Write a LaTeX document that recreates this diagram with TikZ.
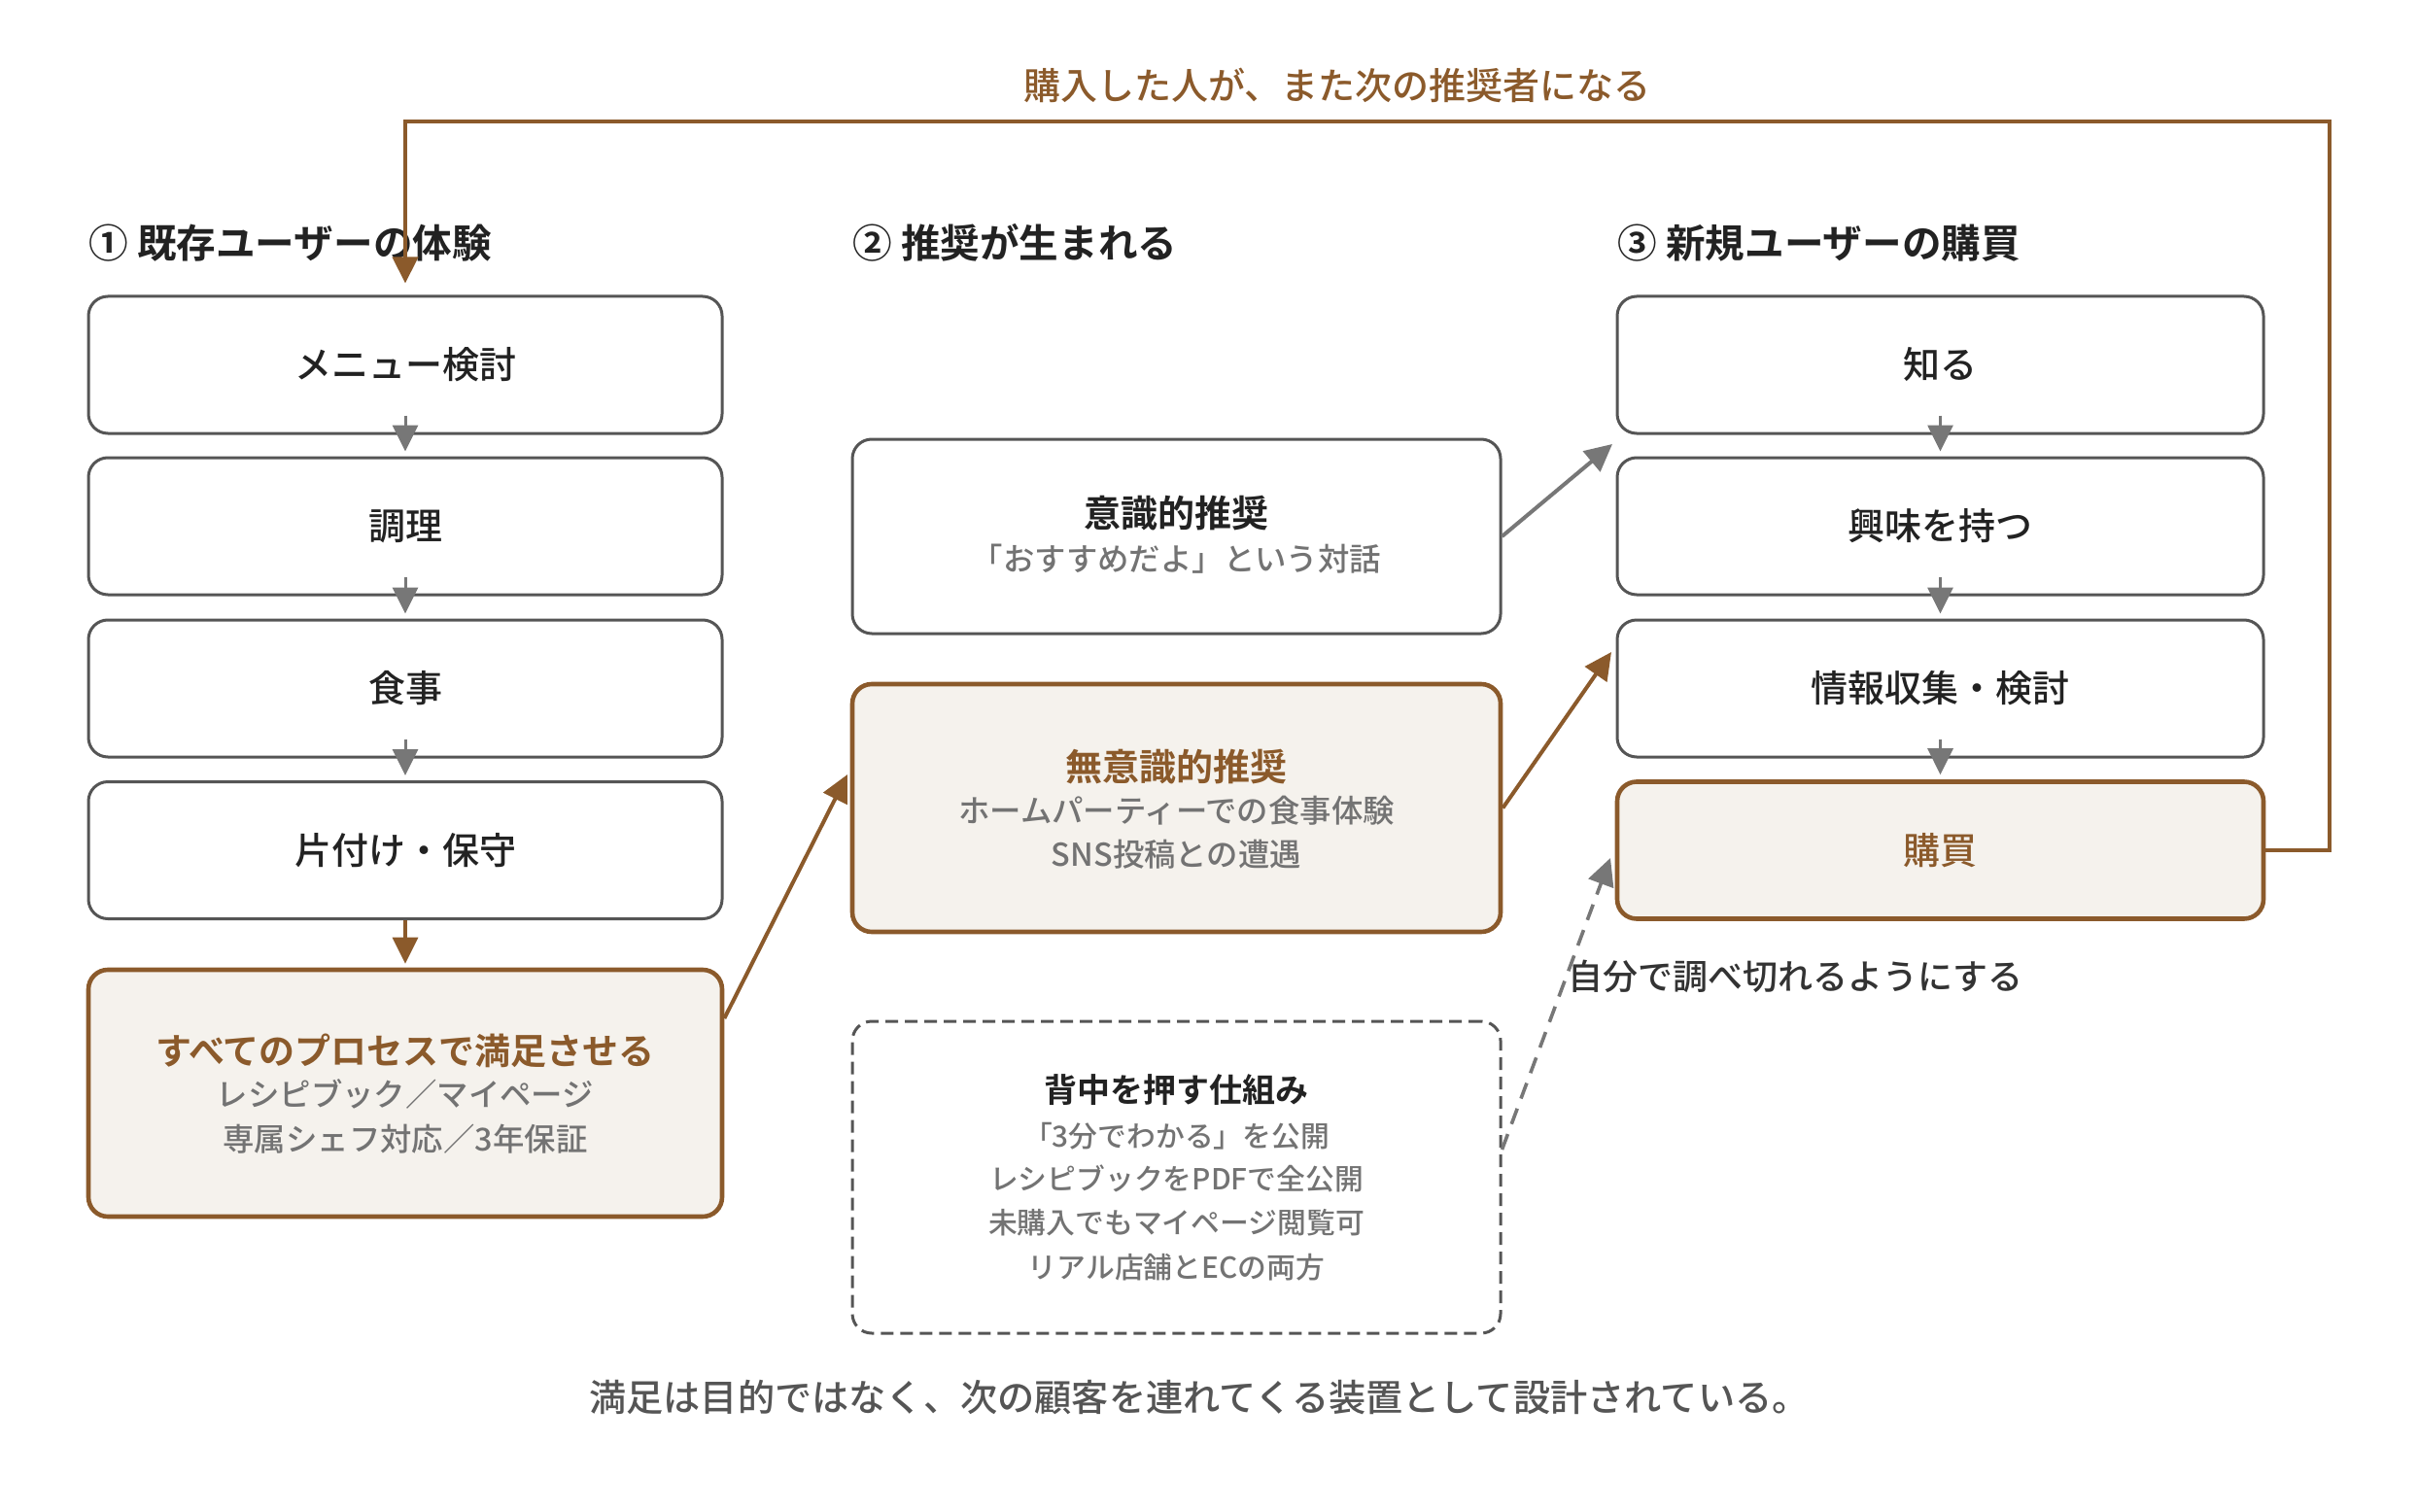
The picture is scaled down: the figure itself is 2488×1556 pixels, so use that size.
\documentclass[tikz,border=0pt]{standalone}
\usepackage{fontspec}
\setmainfont{Noto Sans CJK JP Medium}[BoldFont={Noto Sans CJK JP Bold}]
\usetikzlibrary{arrows.meta}
\definecolor{brn}{HTML}{8B5A2B}
\definecolor{fillc}{HTML}{F5F2ED}
\definecolor{bord}{HTML}{555555}
\definecolor{arr}{HTML}{777777}
\definecolor{txt}{HTML}{222222}
\definecolor{subc}{HTML}{737373}
\definecolor{notec}{HTML}{333333}
\definecolor{footc}{HTML}{555555}
\begin{document}
\begin{tikzpicture}[x=0.5pt,y=-0.5pt,
  box/.style={draw=bord, line width=1.5pt, rounded corners=10pt, fill=white, inner sep=0pt,
    minimum height=70.5pt, text=txt, font=\fontsize{19}{23}\selectfont},
  lbox/.style={box, minimum width=326pt},
  mbox/.style={box, minimum width=333.5pt},
  rbox/.style={box, minimum width=332.5pt},
  hbox/.style={draw=brn, line width=2.3pt, fill=fillc},
  dashbox/.style={draw=bord, line width=1.5pt, dash pattern=on 6.5pt off 3.5pt},
  head/.style={anchor=west, inner sep=0pt, text=txt, font=\fontsize{20.3}{24}\selectfont\bfseries},
  ttlb/.style={inner sep=0pt, text=brn, font=\fontsize{18.5}{22}\selectfont\bfseries},
  ttlk/.style={inner sep=0pt, text=txt, font=\fontsize{19}{22}\selectfont\bfseries},
  subt/.style={inner sep=0pt, text=subc, font=\fontsize{16.2}{20}\selectfont},
  subs/.style={inner sep=0pt, text=subc, font=\fontsize{14.9}{18}\selectfont},
  garrow/.style={draw=arr, line width=1.5pt, -{Triangle[length=13.5pt,width=13pt]}},
  garrowd/.style={draw=arr, line width=2pt, -{Triangle[length=14pt,width=13.5pt]}},
  barrow/.style={draw=brn, line width=1.8pt, -{Triangle[length=13.5pt,width=13pt]}},
  barrowd/.style={draw=brn, line width=2pt, -{Triangle[length=14pt,width=13.5pt]}},
  loopline/.style={draw=brn, line width=2.2pt, -{Triangle[length=13.5pt,width=13pt]}},
]
\useasboundingbox (0,0) rectangle (2488,1556);

% headings
\node[head] (h1) at (91,250) {① 既存ユーザーの体験};
\node[head] (h2) at (877,250) {② 推奨が生まれる};
\node[head] (h3) at (1664,250) {③ 新規ユーザーの購買};

% left column
\node[lbox] (b1) at (417,375.5) {メニュー検討};
\node[lbox] (b2) at (417,541.5) {調理};
\node[lbox] (b3) at (417,708.5) {食事};
\node[lbox] (b4) at (417,875) {片付け・保守};
\node[lbox, hbox, minimum height=127pt] (b5) at (417,1125) {};
\node[ttlb] (b5t) at (417,1081) {すべてのプロセスで満足させる};
\node[subt] (b5s1) at (417,1126) {レシピブック／マイページ};
\node[subt] (b5s2) at (417,1172) {専属シェフ対応／3年保証};

% middle column
\node[mbox, minimum height=100pt] (m1) at (1210.5,552) {};
\node[ttlk] (m1t) at (1210.5,528) {意識的推奨};
\node[subt] (m1s) at (1210.5,575) {「おすすめだよ」という対話};
\node[mbox, hbox, minimum height=127.5pt] (m2) at (1210.5,831.5) {};
\node[ttlb, font=\fontsize{19}{22}\selectfont\bfseries] (m2t) at (1210.5,789) {無意識的推奨};
\node[subt] (m2s1) at (1210.5,834) {ホームパーティーでの食事体験};
\node[subt] (m2s2) at (1210.5,879) {SNS投稿との遭遇};
\node[mbox, dashbox, minimum height=160.5pt] (m3) at (1210.5,1211.5) {};
\node[ttlk, font=\fontsize{17}{20}\selectfont\bfseries] (m3t) at (1210.5,1122) {背中を押す仕組み};
\node[subs] (m3s1) at (1210.5,1169) {「3分でわかる」を公開};
\node[subs] (m3s2) at (1210.5,1213) {レシピブックをPDFで全公開};
\node[subs] (m3s3) at (1210.5,1258) {未購入でもマイページ閲覧可};
\node[subs] (m3s4) at (1210.5,1304) {リアル店舗とECの両方};

% right column
\node[rbox] (r1) at (1996.5,375.5) {知る};
\node[rbox] (r2) at (1996.5,541.5) {興味を持つ};
\node[rbox] (r3) at (1996.5,708.5) {情報収集・検討};
\node[rbox, hbox, text=brn] (r4) at (1996.5,875) {購買};

% labels
\node[inner sep=0pt, text=brn, font=\fontsize{19}{23}\selectfont] (looplbl) at (1376,88) {購入した人が、また次の推奨者になる};
\node[anchor=west, inner sep=0pt, text=notec, font=\fontsize{18}{22}\selectfont] (note) at (1613,1005) {自分で調べ切れるようにする};
\node[inner sep=0pt, text=footc, font=\fontsize{19.1}{22}\selectfont] (foot) at (1234,1438) {満足は目的ではなく、次の顧客を連れてくる装置として設計されている。};

% coordinates
\coordinate (loopR) at (2397,125);
\coordinate (t1) at (1659,457);
\coordinate (t2) at (1658,671);
\coordinate (t3) at (872,797);
\coordinate (t4) at (1657,883);

% vertical arrows
\draw[garrow] ([yshift=10pt]b1.south) -- ([yshift=2.5pt]b2.north);
\draw[garrow] ([yshift=10pt]b2.south) -- ([yshift=2.5pt]b3.north);
\draw[garrow] ([yshift=10pt]b3.south) -- ([yshift=2.5pt]b4.north);
\draw[barrow] (b4.south) -- ([yshift=2pt]b5.north);
\draw[garrow] ([yshift=10pt]r1.south) -- ([yshift=2.5pt]r2.north);
\draw[garrow] ([yshift=10pt]r2.south) -- ([yshift=2.5pt]r3.north);
\draw[garrow] ([yshift=10pt]r3.south) -- ([yshift=2.5pt]r4.north);

% diagonal arrows
\draw[barrowd] ([yshift=38.5pt]b5.east) -- (t3);
\draw[garrowd] (m1.east) -- (t1);
\draw[barrowd] (m2.east) -- (t2);
\draw[garrowd, line width=1.8pt, dash pattern=on 8.5pt off 5.5pt] ([yshift=14.25pt]m3.east) -- (t4);

% feedback loop
\draw[loopline] (r4.east) -| (loopR) -| ([yshift=6pt]b1.north);
\end{tikzpicture}
\end{document}
